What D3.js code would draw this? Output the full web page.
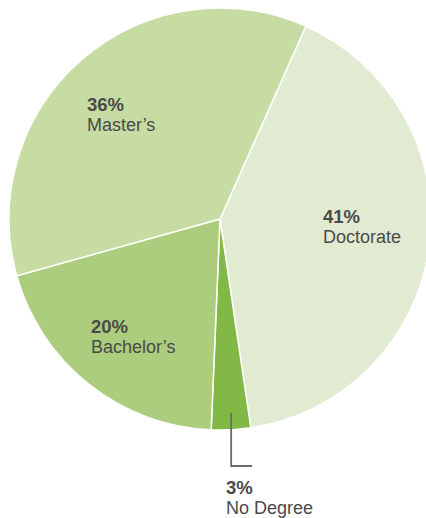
<!DOCTYPE html>
<html>
<head>
<meta charset="utf-8">
<title>Degree pie</title>
<script src="https://cdn.jsdelivr.net/npm/d3@7"></script>
<style>
  body { margin: 0; background: #fff; }
  text { font-family: "Liberation Sans", Arial, Helvetica, sans-serif; fill: #4a4a4a; }
</style>
</head>
<body>
<div id="chart"></div>
<script>
// data, in drawing order (clockwise from ~24deg)
var categories = ["Doctorate", "No Degree", "Bachelor\u2019s", "Master\u2019s"];
var shares = [41, 3, 20, 36];
var colors = ["#e1ebd2", "#82b946", "#abcd7d", "#c6dca3"];

var width = 426, height = 518;
var cx = 220, cy = 219, radius = 211;
var startAngle = 24 * Math.PI / 180;

var svg = d3.select("#chart").append("svg")
    .attr("width", width)
    .attr("height", height);

var pie = d3.pie()
    .sort(null)
    .value(function(d) { return d; })
    .startAngle(startAngle)
    .endAngle(startAngle + 2 * Math.PI);

var arc = d3.arc().innerRadius(0).outerRadius(radius);

var arcs = pie(shares);

var g = svg.append("g").attr("transform", "translate(" + cx + "," + cy + ")");

g.selectAll("path")
    .data(arcs)
  .enter().append("path")
    .attr("d", arc)
    .attr("fill", function(d, i) { return colors[i]; })
    .attr("stroke", "#fff")
    .attr("stroke-width", 1.5)
    .attr("stroke-linejoin", "round");

// label anchors, relative to pie centre
var labelPos = [
  [103, 4],    // Doctorate
  [6, 275],    // No Degree (outside, below)
  [-129, 114], // Bachelor's
  [-133, -108] // Master's
];

var labels = svg.append("g").attr("transform", "translate(" + cx + "," + cy + ")");

arcs.forEach(function(d, i) {
  var p = labelPos[i];
  var t = labels.append("text")
      .attr("x", p[0])
      .attr("y", p[1]);
  t.append("tspan")
      .attr("x", p[0])
      .style("font-weight", "bold")
      .style("font-size", "18.5px")
      .text(shares[i] + "%");
  t.append("tspan")
      .attr("x", p[0])
      .attr("dy", 20)
      .style("font-size", "18px")
      .text(categories[i]);
});

// leader line for the small slice
var small = arcs[1];
var mid = (small.startAngle + small.endAngle) / 2;
var lx = Math.sin(mid) * (radius - 17) + 1;
var ly = -Math.cos(mid) * (radius - 17);
labels.append("path")
    .attr("d", d3.line()([[lx, ly], [lx, 247], [lx + 21, 247]]))
    .attr("fill", "none")
    .attr("stroke", "#6b6b6b")
    .attr("stroke-width", 1.8);
</script>
</body>
</html>
